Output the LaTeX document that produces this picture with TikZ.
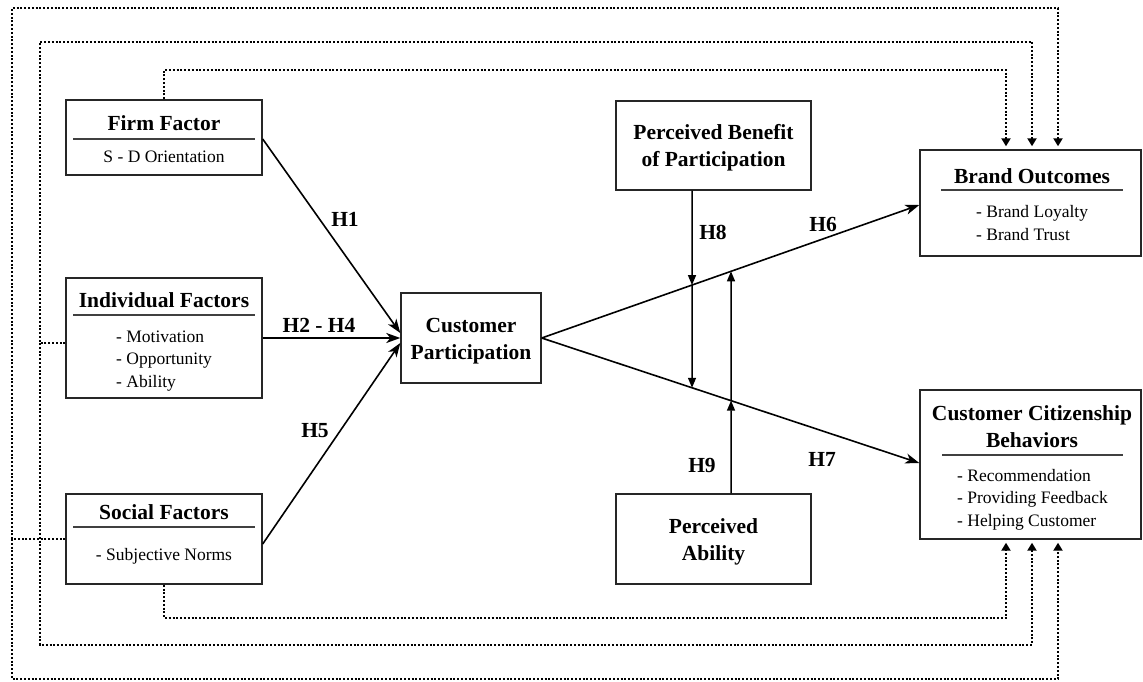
\documentclass[tikz,border=0pt]{standalone}
\usepackage{fontspec}
\setmainfont{Liberation Serif}
\usetikzlibrary{arrows.meta,calc}
\begin{document}
\begin{tikzpicture}[x=1pt,y=-1pt,
 box/.style={draw=black!85,line width=1.4pt,inner sep=0pt},
 ttl/.style={font=\bfseries\fontsize{21.5}{27}\selectfont,anchor=base,align=center,inner sep=0pt},
 itm/.style={font=\fontsize{17.5}{22.2}\selectfont,anchor=base west,align=left,inner sep=0pt},
 sub/.style={font=\fontsize{17.5}{22}\selectfont,anchor=base,inner sep=0pt},
 hyp/.style={font=\bfseries\fontsize{21.5}{26}\selectfont,anchor=base,inner sep=0pt},
 rule/.style={line width=1.3pt,draw=black!75},
 conn/.style={line width=1.6pt,-{Stealth[length=14pt,width=10pt,inset=4pt]}},
 mod/.style={line width=1.5pt,-{Triangle[length=10pt,width=8pt]}},
 dots/.style={line width=2.2pt,dash pattern=on 2pt off 1.8pt},
 dotarr/.style={dots,shorten >=3pt,-{Triangle[length=8pt,width=9pt]}}
]
\useasboundingbox (0,0) rectangle (1143,682);

% Firm factor
\node[box,minimum width=196pt,minimum height=75pt] (firm) at (164,137.5) {};
\node[ttl] (firmT) at (164,131) {Firm Factor};
\draw[rule] (73,139) -- (255,139);
\node[sub] (firmS) at (164,162) {S - D Orientation};

% Individual factors
\node[box,minimum width=196pt,minimum height=120pt] (indiv) at (164,338) {};
\node[ttl] (indivT) at (164,307) {Individual Factors};
\draw[rule] (73,315) -- (255,315);
\node[itm] (indivI) at (116,387) {- Motivation\\- Opportunity\\- Ability};

% Social factors
\node[box,minimum width=196pt,minimum height=90pt] (social) at (164,539) {};
\node[ttl] (socialT) at (164,519) {Social Factors};
\draw[rule] (73,527) -- (255,527);
\node[sub] (socialS) at (164,560) {- Subjective Norms};

% Customer participation
\node[box,minimum width=140pt,minimum height=90pt] (cp) at (471,338) {};
\node[ttl] (cpT) at (471,359) {Customer\\Participation};

% Perceived benefit
\node[box,minimum width=195pt,minimum height=89pt] (ben) at (713.5,145.5) {};
\node[ttl] (benT) at (713.5,166) {Perceived Benefit\\of Participation};

% Perceived ability
\node[box,minimum width=195pt,minimum height=90pt] (abil) at (713.5,539) {};
\node[ttl] (abilT) at (713.5,560) {Perceived\\Ability};

% Brand outcomes
\node[box,minimum width=221pt,minimum height=106pt] (brand) at (1030.5,203) {};
\node[ttl] (brandT) at (1032,183) {Brand Outcomes};
\draw[rule] (941,190) -- (1123,190);
\node[itm] (brandI) at (976,240) {- Brand Loyalty\\- Brand Trust};

% Customer citizenship behaviors
\node[box,minimum width=221pt,minimum height=149pt] (ccb) at (1030.5,464.5) {};
\node[ttl] (ccbT) at (1032,447) {Customer Citizenship\\Behaviors};
\draw[rule] (942,455) -- (1123,455);
\node[itm] (ccbI) at (957,526) {- Recommendation\\- Providing Feedback\\- Helping Customer};

% main paths
\draw[conn] ([yshift=-1.5pt]firm.east) -- ([yshift=5pt]cp.west);
\draw[conn] (indiv.east) -- (cp.west);
\draw[conn] ([yshift=-5pt]social.east) -- ([yshift=-5pt]cp.west);
\coordinate (c0) at (cp.east);
\coordinate (e6) at ([yshift=-2pt]brand.west);
\coordinate (e7) at ([yshift=1.5pt]ccb.west);
\draw[conn] (c0) -- (e6);
\draw[conn] (c0) -- (e7);

\node[hyp] (h1) at (345,226) {H1};
\node[hyp] (h24) at (319,332) {H2 - H4};
\node[hyp] (h5) at (315,437) {H5};
\node[hyp] (h6) at (823,231) {H6};
\node[hyp] (h7) at (822,466) {H7};
\node[hyp] (h8) at (713,239) {H8};
\node[hyp] (h9) at (702,472) {H9};

% moderators
\coordinate (s8) at ([xshift=-21.5pt]ben.south);
\coordinate (s8b) at ([xshift=-21.5pt]abil.north);
\coordinate (s9) at ([xshift=17.5pt]abil.north);
\coordinate (s9b) at ([xshift=17.5pt]ben.south);
\coordinate (i86) at (intersection of c0--e6 and s8--s8b);
\coordinate (i87) at (intersection of c0--e7 and s8--s8b);
\coordinate (i96) at (intersection of c0--e6 and s9--s9b);
\coordinate (i97) at (intersection of c0--e7 and s9--s9b);
\draw[mod] (s8) -- (i86);
\draw[mod] (i86) -- (i87);
\draw[mod] (s9) -- (i97);
\draw[mod] (i97) -- (i96);

% dotted feedback paths
\coordinate (L1) at (12,539);
\coordinate (T1) at (1058,8);
\coordinate (U1) at (1058,679);
\draw[dotarr] (social.west) -- (L1) |- (T1) -- ([xshift=27.5pt]brand.north);
\draw[dotarr] (L1) |- (U1) -- ([xshift=27.5pt]ccb.south);

\coordinate (L2) at (40,343);
\coordinate (T2) at (1032,42);
\coordinate (U2) at (1032,645);
\draw[dotarr] ([yshift=-5pt]indiv.west) -- (L2) |- (T2) -- ([xshift=1.5pt]brand.north);
\draw[dotarr] (L2) |- (U2) -- ([xshift=1.5pt]ccb.south);

\coordinate (T3) at (1006,70);
\coordinate (U3) at (1006,618);
\draw[dotarr] (firm.north) |- (T3) -- ([xshift=-24.5pt]brand.north);
\draw[dotarr] (social.south) |- (U3) -- ([xshift=-24.5pt]ccb.south);
\end{tikzpicture}
\end{document}
